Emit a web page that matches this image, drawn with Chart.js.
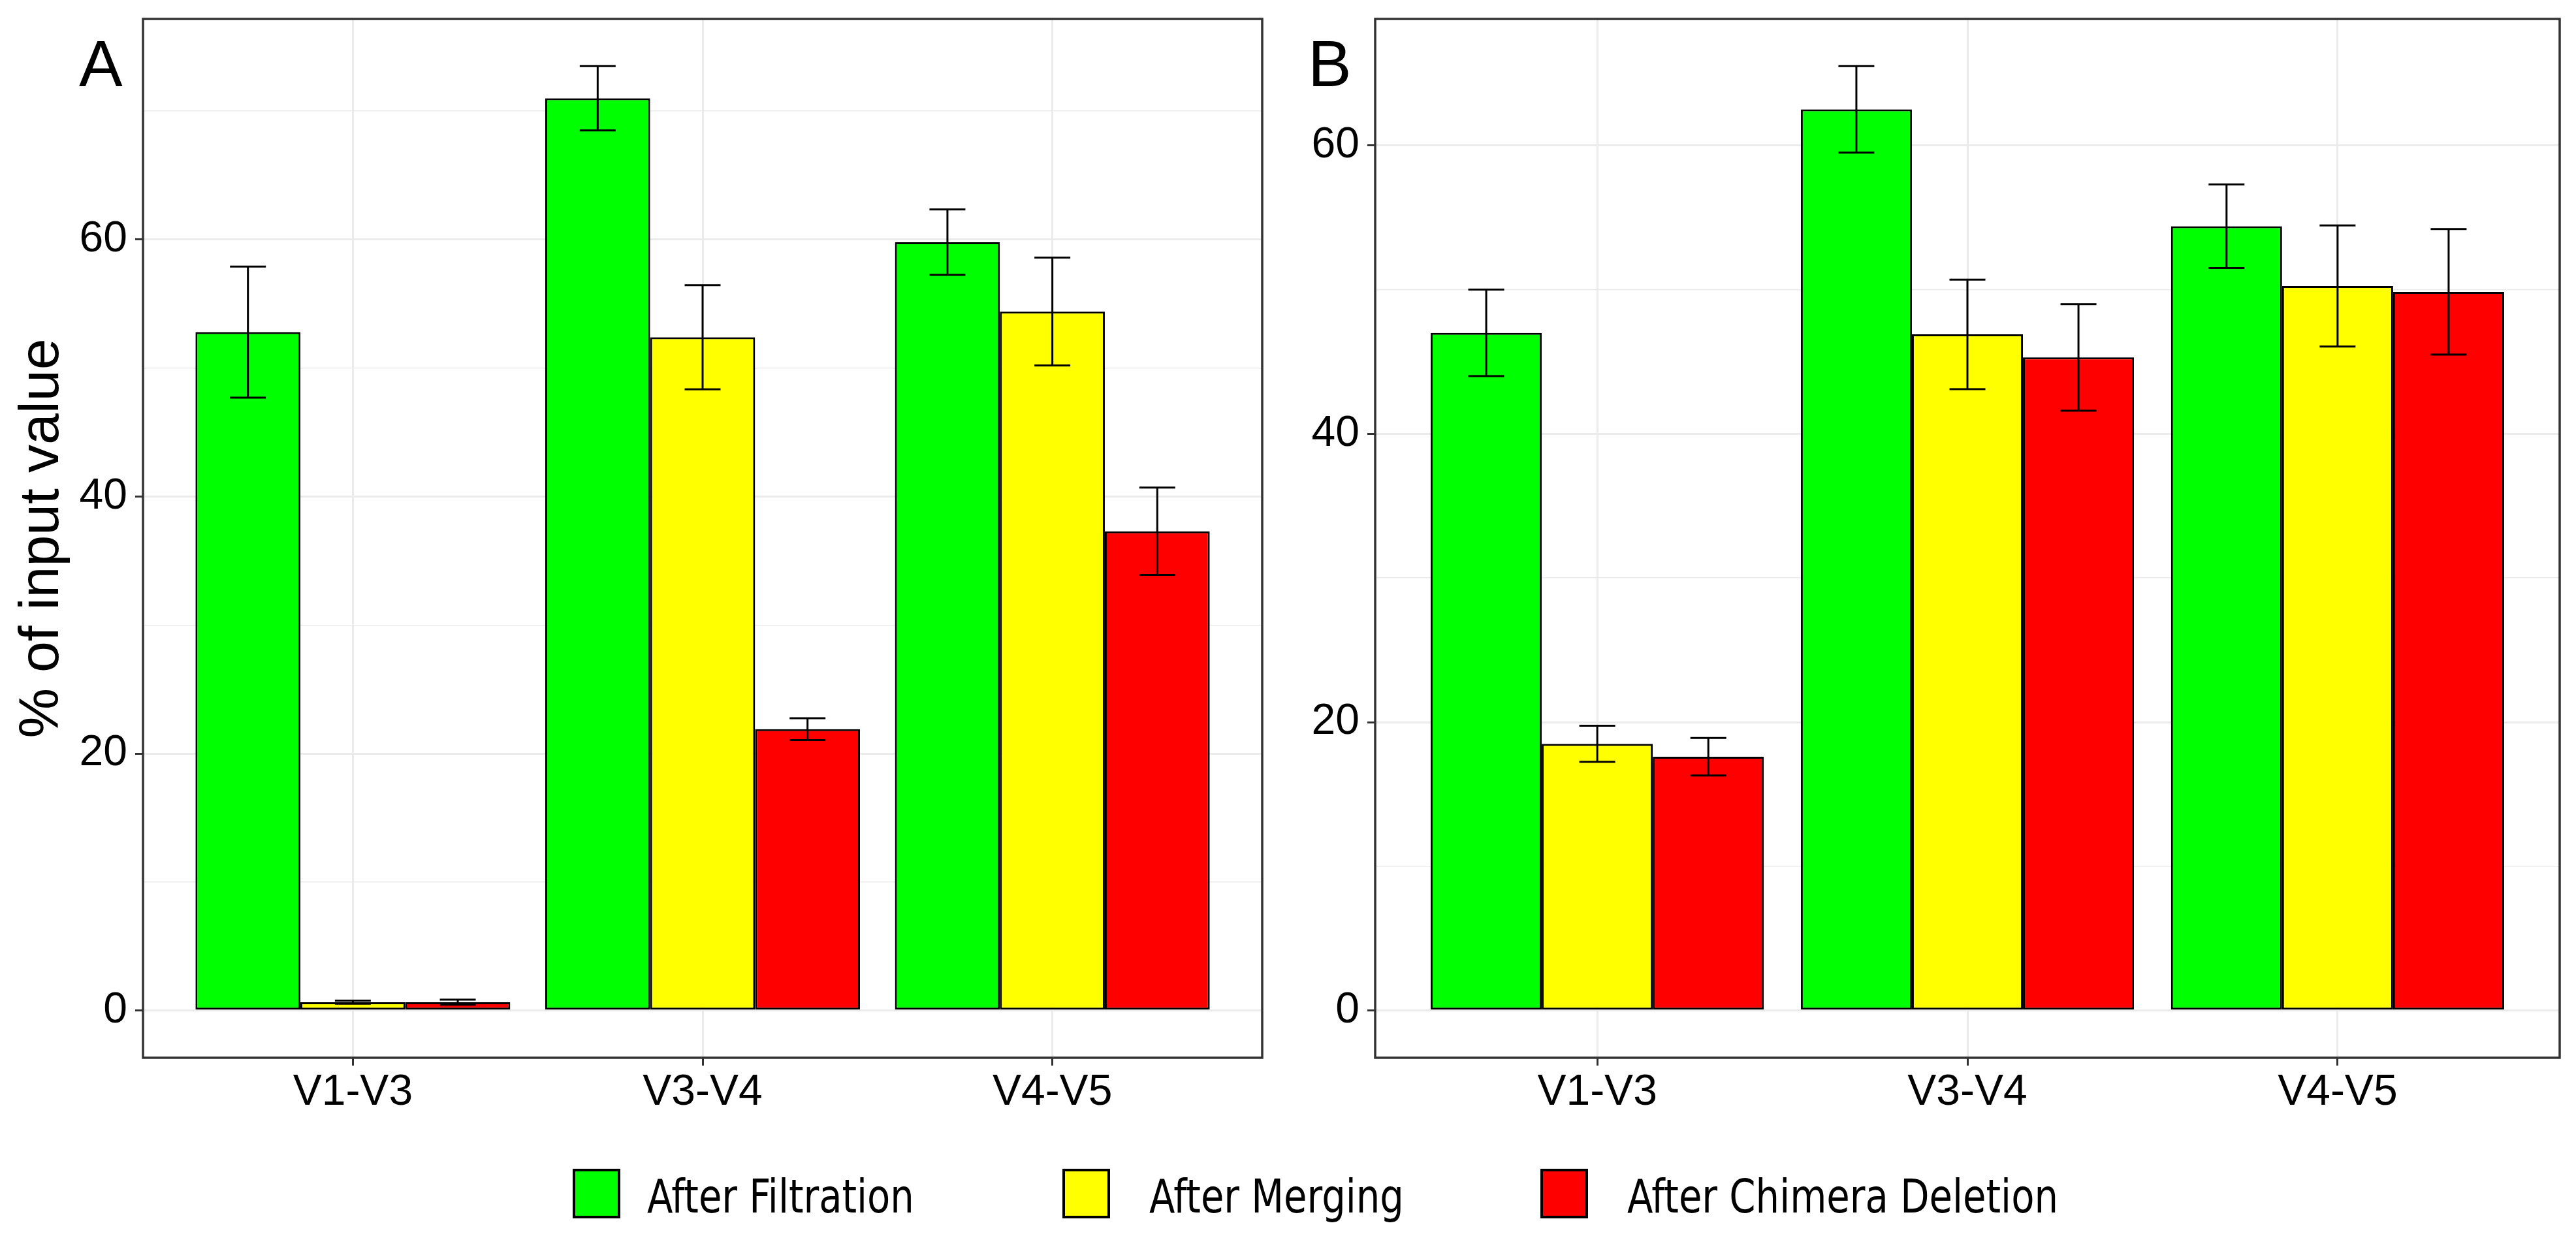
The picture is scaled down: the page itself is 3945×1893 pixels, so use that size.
<!DOCTYPE html>
<html>
<head>
<meta charset="utf-8">
<script src="https://cdn.jsdelivr.net/npm/chart.js@4.4.0/dist/chart.umd.min.js"></script>
<style>
  body { margin: 0; background: #fff; width: 3945px; height: 1893px; position: relative; overflow: hidden; }
  canvas { position: absolute; top: 0; }
  #chartA { left: 0; }
  #chartB { left: 1972px; }
  .panel-tag { position: absolute; top: 47px; font-family: "Liberation Sans", Arial, sans-serif; font-size: 100px; line-height: 1; color: #000; }
  .swatch { position: absolute; top: 1790px; width: 65px; height: 68px; border: 4px solid #000; }
  .legend-label { position: absolute; top: 1796px; font-family: "DejaVu Sans Condensed", "DejaVu Sans", sans-serif; font-stretch: condensed; font-size: 72px; line-height: 1; color: #000; white-space: nowrap; transform: scaleX(0.89); transform-origin: left center; }
</style>
</head>
<body>
<canvas id="chartA" width="1972" height="1760"></canvas>
<canvas id="chartB" width="1973" height="1760"></canvas>
<div class="panel-tag" style="left:121px">A</div>
<div class="panel-tag" style="left:2003px">B</div>
<div id="legend"></div>

<script>
const categories = ['V1-V3', 'V3-V4', 'V4-V5'];
const seriesNames = ['After Filtration', 'After Merging', 'After Chimera Deletion'];
const seriesColors = ['#00FF00', '#FFFF00', '#FF0000'];

// panel A (% of input value, mean and error)
const filtrationA = [52.8, 71.0, 59.8];
const filtrationErrA = [5.1, 2.5, 2.55];
const mergingA = [0.65, 52.4, 54.4];
const mergingErrA = [0.12, 4.05, 4.2];
const chimeraA = [0.65, 21.9, 37.3];
const chimeraErrA = [0.2, 0.85, 3.4];

// panel B
const filtrationB = [47.0, 62.5, 54.4];
const filtrationErrB = [3.0, 3.0, 2.9];
const mergingB = [18.5, 46.9, 50.25];
const mergingErrB = [1.25, 3.8, 4.2];
const chimeraB = [17.6, 45.3, 49.85];
const chimeraErrB = [1.3, 3.7, 4.35];

const majorTicks = [0, 20, 40, 60];
const minorTicks = [10, 30, 50, 70];

Chart.defaults.font.family = '"Liberation Sans", Arial, sans-serif';
Chart.defaults.color = '#000';

const errorBarPlugin = {
    id: 'errorBars',
    afterDatasetsDraw(chart, args, opts) {
        const ctx = chart.ctx;
        const y = chart.scales.y;
        const half = opts.capWidth / 2;
        ctx.save();
        ctx.strokeStyle = '#000';
        ctx.lineWidth = 3;
        chart.data.datasets.forEach((ds, d) => {
            chart.getDatasetMeta(d).data.forEach((bar, i) => {
                const m = ds.data[i].y;
                const e = opts.errors[d][i];
                const top = y.getPixelForValue(m + e);
                const bot = y.getPixelForValue(m - e);
                ctx.beginPath();
                ctx.moveTo(bar.x, top); ctx.lineTo(bar.x, bot);
                ctx.moveTo(bar.x - half, top); ctx.lineTo(bar.x + half, top);
                ctx.moveTo(bar.x - half, bot); ctx.lineTo(bar.x + half, bot);
                ctx.stroke();
            });
        });
        ctx.restore();
    }
};

const panelBorderPlugin = {
    id: 'panelBorder',
    afterDraw(chart) {
        const a = chart.chartArea;
        const ctx = chart.ctx;
        ctx.save();
        ctx.strokeStyle = '#333333';
        ctx.lineWidth = 3.5;
        ctx.strokeRect(a.left, a.top, a.right - a.left, a.bottom - a.top);
        ctx.restore();
    }
};

function makePanel(id, means, errors, axisWidth, padRight, showTitle) {
    // ggplot style limits: 5% expansion of the data range
    let top = 0;
    means.forEach((s, d) => s.forEach((v, i) => { top = Math.max(top, v + errors[d][i]); }));
    const pad = top * 0.05;

    const datasets = means.map((s, d) => ({
        label: seriesNames[d],
        data: s.map((v, i) => ({ x: i + 1, y: v })),
        backgroundColor: seriesColors[d],
        borderColor: '#000',
        borderWidth: 3,
        borderSkipped: false,
        categoryPercentage: 0.9,
        barPercentage: 1.0
    }));

    const isMajor = c => c.tick && majorTicks.includes(c.tick.value);

    return new Chart(document.getElementById(id), {
        type: 'bar',
        data: { datasets },
        plugins: [errorBarPlugin, panelBorderPlugin],
        options: {
            responsive: false,
            animation: false,
            devicePixelRatio: 1,
            layout: { padding: { top: 29, right: padRight, left: 0, bottom: 0 } },
            plugins: {
                legend: { display: false },
                tooltip: { enabled: false },
                errorBars: { errors, capWidth: 55 }
            },
            scales: {
                x: {
                    type: 'linear',
                    min: 0.4,
                    max: 3.6,
                    offset: false,
                    afterBuildTicks: s => { s.ticks = categories.map((c, i) => ({ value: i + 1 })); },
                    afterFit: s => { s.height = 140; s.paddingLeft = 0; s.paddingRight = 0; },
                    border: { display: false },
                    grid: { offset: false, color: '#EBEBEB', lineWidth: 3, tickColor: '#333', tickLength: 12, tickWidth: 3 },
                    ticks: {
                        autoSkip: false,
                        maxRotation: 0,
                        padding: 2,
                        font: { size: 66 },
                        callback: v => categories[Math.round(v) - 1]
                    }
                },
                y: {
                    min: -pad,
                    max: top + pad,
                    afterBuildTicks: s => {
                        s.ticks = majorTicks.concat(minorTicks)
                            .filter(v => v >= s.min && v <= s.max)
                            .sort((a, b) => a - b)
                            .map(v => ({ value: v }));
                    },
                    afterFit: s => { s.width = axisWidth; s.paddingTop = 0; s.paddingBottom = 0; },
                    border: { display: false },
                    grid: {
                        color: '#EBEBEB',
                        lineWidth: c => isMajor(c) ? 3 : 1.6,
                        tickColor: c => isMajor(c) ? '#333' : 'rgba(0,0,0,0)',
                        tickLength: 12,
                        tickWidth: 3
                    },
                    ticks: {
                        padding: 12,
                        font: { size: 66 },
                        callback: v => majorTicks.includes(v) ? v : ''
                    },
                    title: {
                        display: showTitle,
                        text: '% of input value',
                        font: { size: 86 },
                        padding: { top: 14, bottom: 0 }
                    }
                }
            }
        }
    });
}

makePanel('chartA', [filtrationA, mergingA, chimeraA], [filtrationErrA, mergingErrA, chimeraErrA], 219, 39, true);
makePanel('chartB', [filtrationB, mergingB, chimeraB], [filtrationErrB, mergingErrB, chimeraErrB], 134, 25, false);

// shared legend under both panels
const swatchLeft = [877, 1627, 2359];
const labelLeft = [991, 1760, 2492];
const legend = document.getElementById('legend');
seriesNames.forEach((name, i) => {
    const sw = document.createElement('div');
    sw.className = 'swatch';
    sw.style.left = swatchLeft[i] + 'px';
    sw.style.background = seriesColors[i];
    legend.appendChild(sw);
    const lb = document.createElement('div');
    lb.className = 'legend-label';
    lb.style.left = labelLeft[i] + 'px';
    lb.innerText = name;
    legend.appendChild(lb);
});
</script>
</body>
</html>
